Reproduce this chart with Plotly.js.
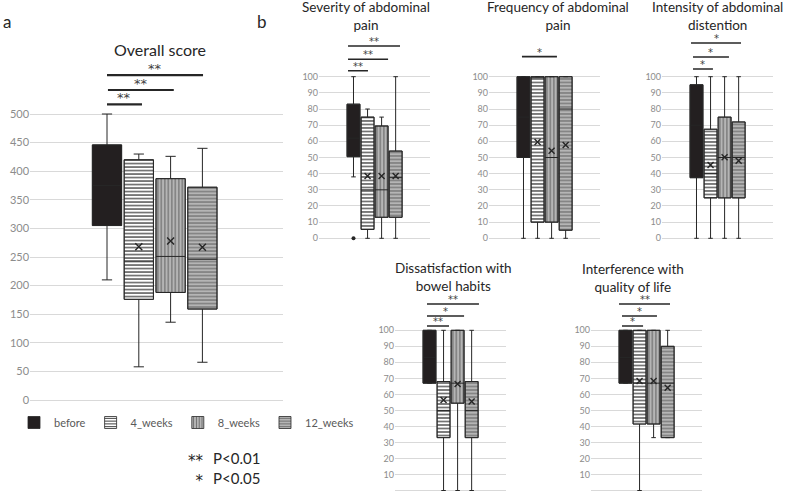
<!DOCTYPE html>
<html>
<head>
<meta charset="utf-8">
<script src="https://cdn.plot.ly/plotly-3.0.1.min.js"></script>
<style>
  html, body { margin: 0; padding: 0; background: #fff; }
  #chart { width: 786px; height: 494px; }
</style>
</head>
<body>
<div id="chart"></div>
<script>
var groups = ['before', '4_weeks', '8_weeks', '12_weeks'];

// a: Overall score
var overallQ1 = [305, 176, 188, 159];
var overallMedian = [375, 243, 251, 246];
var overallQ3 = [446, 420, 387, 372];
var overallMin = [210, 58, 136, 66];
var overallMax = [500, 430, 426, 440];
var overallMean = [null, 268, 278, 267];
var overallSig = [[0, 1.1, 517, '**'], [0.03, 2.1, 542, '**'], [0, 3.02, 568, '**']];

// b: Severity of abdominal pain
var severityQ1 = [50.5, 5.5, 13, 13];
var severityMedian = [62, 30, 30, 37.5];
var severityQ3 = [83, 75, 69.5, 54];
var severityMin = [38, 0, 0, 0];
var severityMax = [100, 80, 75, 100];
var severityMean = [null, 38.5, 38.5, 38.5];
var severityOutliers = [0];
var severitySig = [[-0.39, 1.03, 103.7, '**'], [-0.39, 2.46, 110.8, '**'], [-0.39, 3.31, 119, '**']];

// b: Frequency of abdominal pain
var frequencyQ1 = [50, 10, 10, 5];
var frequencyMedian = [75, 100, 50, 80];
var frequencyQ3 = [100, 100, 100, 100];
var frequencyMin = [0, 0, 0, 0];
var frequencyMax = [100, 100, 100, 100];
var frequencyMean = [null, 59.6, 54.2, 57.7];
var frequencySig = [[-0.11, 2.38, 112.4, '*']];

// b: Intensity of abdominal distention
var intensityQ1 = [37.5, 25, 25, 25];
var intensityMedian = [70, 40, 50, 50];
var intensityQ3 = [95, 67.5, 75, 72];
var intensityMin = [0, 0, 0, 0];
var intensityMax = [100, 100, 100, 100];
var intensityMean = [null, 45.4, 50.1, 48];
var intensitySig = [[-0.25, 1.17, 104.8, '*'], [-0.25, 2.31, 112.2, '*'], [-0.39, 3.17, 120.9, '*']];

// b: Dissatisfaction with bowel habits
var bowelQ1 = [67, 33, 54.5, 33];
var bowelMedian = [83, 50, 67, 50];
var bowelQ3 = [100, 68, 100, 68];
var bowelMin = [67, 0, 0, 0];
var bowelMax = [100, 100, 100, 100];
var bowelMean = [null, 56.5, 66.5, 55.5];
var bowelSig = [[-0.18, 1.39, 102.7, '**'], [-0.18, 2.46, 108.9, '*'], [-0.18, 3.52, 116.4, '**']];

// b: Interference with quality of life
var lifeQ1 = [67, 41.5, 41.5, 33];
var lifeMedian = [83, 67, 67, 67];
var lifeQ3 = [100, 100, 100, 90];
var lifeMin = [67, 0, 33, 33];
var lifeMax = [100, 100, 100, 100];
var lifeMean = [null, 68.4, 68.4, 64.2];
var lifeSig = [[-0.25, 1.25, 102.7, '*'], [-0.25, 2.24, 108.9, '*'], [-0.46, 3.17, 116.4, '**']];

var yTicksOverall = [0, 50, 100, 150, 200, 250, 300, 350, 400, 450, 500];
var yTicksScore = [0, 10, 20, 30, 40, 50, 60, 70, 80, 90, 100];

var W = 786, H = 494;
var ink = '#262626';
var styles = [
  {bg: '#231f20', fg: '#231f20', shape: ''},
  {bg: '#ffffff', fg: '#262626', shape: '-'},
  {bg: '#b5b5b5', fg: '#6a6a6a', shape: '|'},
  {bg: '#b5b5b5', fg: '#6a6a6a', shape: '-'}
];

function xDomain(firstCenter, pxPerUnit, range) {
  return [(firstCenter + range[0] * pxPerUnit) / W, (firstCenter + range[1] * pxPerUnit) / W];
}
function yDomain(pxZero, pxTop, topValue, range) {
  var ppu = (pxZero - pxTop) / topValue;
  return [1 - (pxZero - range[0] * ppu) / H, 1 - (pxZero - range[1] * ppu) / H];
}

var xrA = [-2.42, 5.53], xrB = [-2.45, 5.45];
var yrA = [-3, 600], yrTop = [-1, 130], yrBot = [-1, 125];

var panels = [
  {q1: overallQ1, med: overallMedian, q3: overallQ3, lo: overallMin, hi: overallMax, mean: overallMean, sig: overallSig,
   xd: xDomain(107, 31.8, xrA), xr: xrA, yd: yDomain(400, 114, 500, yrA), yr: yrA, ticks: yTicksOverall,
   tickSize: 11, meanSize: 7, starSize: 13, sigWidth: 2.2, starShift: 2},
  {q1: severityQ1, med: severityMedian, q3: severityQ3, lo: severityMin, hi: severityMax, mean: severityMean, sig: severitySig,
   xd: xDomain(353.5, 14.05, xrB), xr: xrB, yd: yDomain(238.3, 76.7, 100, yrTop), yr: yrTop, ticks: yTicksScore,
   tickSize: 9, meanSize: 6, starSize: 10, sigWidth: 1.6, starShift: 1},
  {q1: frequencyQ1, med: frequencyMedian, q3: frequencyQ3, lo: frequencyMin, hi: frequencyMax, mean: frequencyMean, sig: frequencySig,
   xd: xDomain(523.5, 14.05, xrB), xr: xrB, yd: yDomain(238.3, 76.7, 100, yrTop), yr: yrTop, ticks: yTicksScore,
   tickSize: 9, meanSize: 6, starSize: 10, sigWidth: 1.6, starShift: 1},
  {q1: intensityQ1, med: intensityMedian, q3: intensityQ3, lo: intensityMin, hi: intensityMax, mean: intensityMean, sig: intensitySig,
   xd: xDomain(696.5, 14.05, xrB), xr: xrB, yd: yDomain(238.3, 76.7, 100, yrTop), yr: yrTop, ticks: yTicksScore,
   tickSize: 9, meanSize: 6, starSize: 10, sigWidth: 1.6, starShift: 1},
  {q1: bowelQ1, med: bowelMedian, q3: bowelQ3, lo: bowelMin, hi: bowelMax, mean: bowelMean, sig: bowelSig,
   xd: xDomain(429.5, 14.05, xrB), xr: xrB, yd: yDomain(490.5, 330.3, 100, yrBot), yr: yrBot, ticks: yTicksScore,
   tickSize: 9, meanSize: 6, starSize: 10, sigWidth: 1.6, starShift: 1},
  {q1: lifeQ1, med: lifeMedian, q3: lifeQ3, lo: lifeMin, hi: lifeMax, mean: lifeMean, sig: lifeSig,
   xd: xDomain(625.5, 14.05, xrB), xr: xrB, yd: yDomain(490.5, 330.3, 100, yrBot), yr: yrBot, ticks: yTicksScore,
   tickSize: 9, meanSize: 6, starSize: 10, sigWidth: 1.6, starShift: 1}
];

var data = [];
var layout = {
  width: W, height: H,
  margin: {l: 0, r: 0, t: 0, b: 0},
  paper_bgcolor: '#ffffff', plot_bgcolor: 'rgba(0,0,0,0)',
  barmode: 'overlay', boxmode: 'overlay',
  hovermode: false,
  font: {family: 'Lato, "Open Sans", sans-serif', color: ink},
  showlegend: true,
  legend: {
    orientation: 'h', x: 14 / W, xanchor: 'left', y: 1 - 408 / H, yanchor: 'top',
    font: {size: 11, color: '#595959'}, itemwidth: 30, traceorder: 'normal'
  },
  shapes: [], annotations: []
};

panels.forEach(function (p, i) {
  var s = i === 0 ? '' : String(i + 1);
  var xa = 'x' + s, ya = 'y' + s;
  layout['xaxis' + s] = {
    domain: p.xd, range: p.xr, type: 'category', categoryarray: groups, categoryorder: 'array',
    showticklabels: false, showgrid: false, zeroline: false, showline: false, ticks: '', anchor: ya, fixedrange: true
  };
  layout['yaxis' + s] = {
    domain: p.yd, range: p.yr, tickvals: p.ticks, showgrid: true, gridcolor: '#d9d9d9', gridwidth: 1,
    zeroline: false, showline: false, ticks: '', anchor: xa, fixedrange: true,
    tickfont: {size: p.tickSize, color: '#8c8c8c'}
  };

  groups.forEach(function (g, k) {
    var st = styles[k];
    data.push({
      type: 'bar', xaxis: xa, yaxis: ya, name: g, legendgroup: g, showlegend: i === 0,
      x: [g], y: [p.q3[k] - p.q1[k]], base: [p.q1[k]], width: 0.92,
      marker: {color: st.bg, line: {width: 0.8, color: ink},
               pattern: {shape: st.shape, fgcolor: st.fg, bgcolor: st.bg, size: 3.5, solidity: 0.32}},
      hoverinfo: 'skip'
    });
  });
  groups.forEach(function (g, k) {
    data.push({
      type: 'box', xaxis: xa, yaxis: ya, showlegend: false,
      x: [g], q1: [p.q1[k]], median: [p.med[k]], q3: [p.q3[k]],
      lowerfence: [p.lo[k]], upperfence: [p.hi[k]],
      width: 0.92, whiskerwidth: 0.35, boxpoints: false,
      fillcolor: 'rgba(0,0,0,0)', line: {color: ink, width: 1}, hoverinfo: 'skip'
    });
  });
  var mx = [], my = [];
  groups.forEach(function (g, k) {
    if (p.mean[k] !== null) { mx.push(g); my.push(p.mean[k]); }
  });
  data.push({
    type: 'scatter', mode: 'markers', xaxis: xa, yaxis: ya, showlegend: false,
    x: mx, y: my,
    marker: {symbol: 'x-thin', size: p.meanSize, color: ink, line: {color: ink, width: 1.4}},
    hoverinfo: 'skip', cliponaxis: false
  });

  p.sig.forEach(function (b) {
    layout.shapes.push({
      type: 'line', xref: xa, yref: ya, x0: b[0], x1: b[1], y0: b[2], y1: b[2],
      line: {color: ink, width: p.sigWidth}
    });
    layout.annotations.push({
      xref: xa, yref: ya, x: (b[0] + b[1]) / 2, y: b[2], yanchor: 'middle', yshift: p.starShift + p.starSize * 0.35,
      text: b[3], showarrow: false, borderpad: 0, font: {family: 'DejaVu Sans', size: p.starSize, color: '#404040'}
    });
  });
});

// outlier point of the severity "before" group
data.push({
  type: 'scatter', mode: 'markers', xaxis: 'x2', yaxis: 'y2', showlegend: false,
  x: severityOutliers.map(function () { return groups[0]; }), y: severityOutliers,
  marker: {symbol: 'circle', size: 4, color: ink}, hoverinfo: 'skip', cliponaxis: false
});

function paperText(text, x, y, size, xanchor, family) {
  layout.annotations.push({
    xref: 'paper', yref: 'paper', x: x / W, y: 1 - y / H, xanchor: xanchor || 'center', yanchor: 'middle',
    align: xanchor || 'center', text: text, showarrow: false, borderpad: 0,
    font: {size: size, color: ink, family: family || 'Lato, "Open Sans", sans-serif'}
  });
}
paperText('a', 2, 22, 17, 'left');
paperText('b', 256, 22, 17, 'left');
paperText('Overall score', 160, 50, 16);
paperText('Severity of abdominal<br>pain', 366, 16, 13.5);
paperText('Frequency of abdominal<br>pain', 558, 16, 13.5);
paperText('Intensity of abdominal<br>distention', 717, 16, 13.5);
paperText('Dissatisfaction with<br>bowel habits', 453, 277, 13.5);
paperText('Interference with<br>quality of life', 633, 278, 13.5);
paperText('P&lt;0.01<br>P&lt;0.05', 212, 468, 15, 'left');
paperText('**<br>*', 205, 471, 15, 'right', 'DejaVu Sans');

Plotly.newPlot('chart', data, layout, {staticPlot: true, displayModeBar: false});
</script>
</body>
</html>
